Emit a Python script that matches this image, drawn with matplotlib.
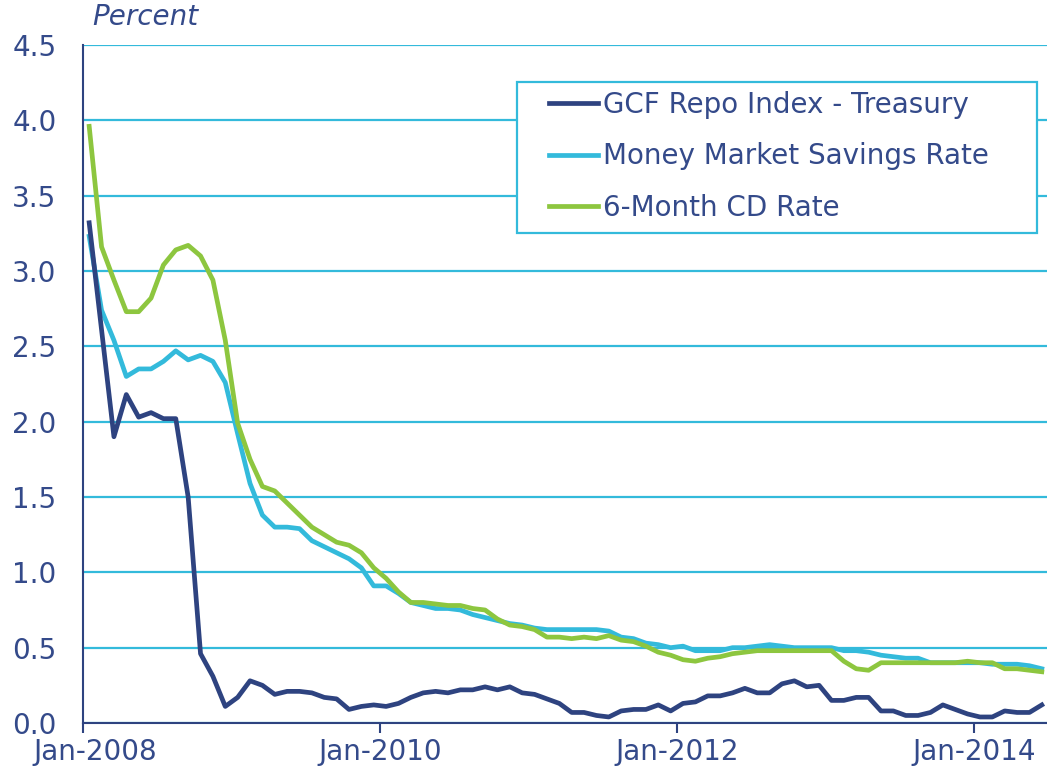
import numpy as np
import matplotlib.pyplot as plt
import matplotlib.transforms as mtransforms
from matplotlib.patches import Rectangle

plt.rcParams['font.family'] = ['DejaVu Sans']

navy = '#2E4380'
cyan = '#33BADB'
green = '#8DC63F'
txt = '#344A8A'

# monthly values, Jan-2008 .. Jun-2014
gcf_repo = [3.32, 2.61, 1.90, 2.18, 2.03, 2.06, 2.02, 2.02, 1.50, 0.46,
            0.31, 0.11, 0.17, 0.28, 0.25, 0.19, 0.21, 0.21, 0.20, 0.17,
            0.16, 0.09, 0.11, 0.12, 0.11, 0.13, 0.17, 0.20, 0.21, 0.20,
            0.22, 0.22, 0.24, 0.22, 0.24, 0.20, 0.19, 0.16, 0.13, 0.07,
            0.07, 0.05, 0.04, 0.08, 0.09, 0.09, 0.12, 0.08, 0.13, 0.14,
            0.18, 0.18, 0.20, 0.23, 0.20, 0.20, 0.26, 0.28, 0.24, 0.25,
            0.15, 0.15, 0.17, 0.17, 0.08, 0.08, 0.05, 0.05, 0.07, 0.12,
            0.09, 0.06, 0.04, 0.04, 0.08, 0.07, 0.07, 0.12]

money_market = [3.23, 2.74, 2.54, 2.30, 2.35, 2.35, 2.40, 2.47, 2.41, 2.44,
                2.40, 2.26, 1.92, 1.59, 1.38, 1.30, 1.30, 1.29, 1.21, 1.17,
                1.13, 1.09, 1.03, 0.91, 0.91, 0.86, 0.80, 0.78, 0.76, 0.76,
                0.75, 0.72, 0.70, 0.68, 0.66, 0.65, 0.63, 0.62, 0.62, 0.62,
                0.62, 0.62, 0.61, 0.57, 0.56, 0.53, 0.52, 0.50, 0.51, 0.48,
                0.48, 0.48, 0.50, 0.50, 0.51, 0.52, 0.51, 0.50, 0.50, 0.50,
                0.50, 0.48, 0.48, 0.47, 0.45, 0.44, 0.43, 0.43, 0.40, 0.40,
                0.40, 0.40, 0.40, 0.39, 0.39, 0.39, 0.38, 0.36]

cd_6month = [3.96, 3.16, 2.94, 2.73, 2.73, 2.82, 3.04, 3.14, 3.17, 3.10,
             2.94, 2.54, 1.99, 1.75, 1.57, 1.54, 1.46, 1.38, 1.30, 1.25,
             1.20, 1.18, 1.13, 1.03, 0.96, 0.87, 0.80, 0.80, 0.79, 0.78,
             0.78, 0.76, 0.75, 0.69, 0.65, 0.64, 0.62, 0.57, 0.57, 0.56,
             0.57, 0.56, 0.58, 0.55, 0.54, 0.51, 0.47, 0.45, 0.42, 0.41,
             0.43, 0.44, 0.46, 0.47, 0.48, 0.48, 0.48, 0.48, 0.48, 0.48,
             0.48, 0.41, 0.36, 0.35, 0.40, 0.40, 0.40, 0.40, 0.40, 0.40,
             0.40, 0.41, 0.40, 0.40, 0.36, 0.36, 0.35, 0.34]

tick_labels = ['Jan-2008', 'Jan-2010', 'Jan-2012', 'Jan-2014']
tick_months = [0, 24, 48, 72]

x = np.arange(len(gcf_repo))
W, H = 1047, 776
fs = 20

fig = plt.figure(figsize=(W / 100, H / 100), dpi=100)
ax = fig.add_axes([83 / W, 1 - 723 / H, 965 / W, 678 / H])

ax.plot(x, gcf_repo, color=navy, lw=3.4, label='GCF Repo Index - Treasury', zorder=4)
ax.plot(x, money_market, color=cyan, lw=3.4, label='Money Market Savings Rate', zorder=3)
ax.plot(x, cd_6month, color=green, lw=3.4, label='6-Month CD Rate', zorder=3)

ax.set_xlim(-0.5, len(x) - 0.5)
ax.set_ylim(0, 4.5)
ax.set_yticks(np.arange(0, 4.51, 0.5))
ax.set_yticklabels(['{:.1f}'.format(v) for v in np.arange(0, 4.51, 0.5)])
ax.set_xticks([m - 0.5 for m in tick_months])
ax.set_xticklabels(tick_labels)

ax.grid(axis='y', color=cyan, lw=1.6)
ax.set_axisbelow(True)
for s in ['top', 'right']:
    ax.spines[s].set_visible(False)
for s in ['left', 'bottom']:
    ax.spines[s].set_color(navy)
    ax.spines[s].set_linewidth(1.5)
    ax.spines[s].set_zorder(5)

ax.tick_params(axis='y', length=0, pad=19, labelsize=fs, labelcolor=txt)
ax.tick_params(axis='x', length=7, width=1.5, color=navy, pad=3.5, labelsize=fs, labelcolor=txt)

# first label sits a little to the right of its tick
lbl = ax.get_xticklabels()[0]
lbl.set_transform(lbl.get_transform() + mtransforms.ScaledTranslation(12 / 100, 0, fig.dpi_scale_trans))

fig.text(92 / W, 1 - 17 / H, 'Percent', fontsize=fs, style='italic', color=txt,
         va='center', ha='left')

# legend box drawn separately so the side padding can differ from the top
fig.patches.append(Rectangle((517 / W, 1 - 233 / H), 520 / W, 151 / H, transform=fig.transFigure,
                             facecolor='white', edgecolor=cyan, lw=1.6, zorder=6))
leg = fig.legend(*ax.get_legend_handles_labels(), loc='upper left',
                 bbox_to_anchor=(549 / W, 1 - 91 / H), fontsize=fs, frameon=False,
                 labelcolor=txt, handlelength=1.75, handletextpad=0.2,
                 borderpad=0, borderaxespad=0, labelspacing=0.84)
leg.set_zorder(7)

fig.savefig('out.png', dpi=100)
